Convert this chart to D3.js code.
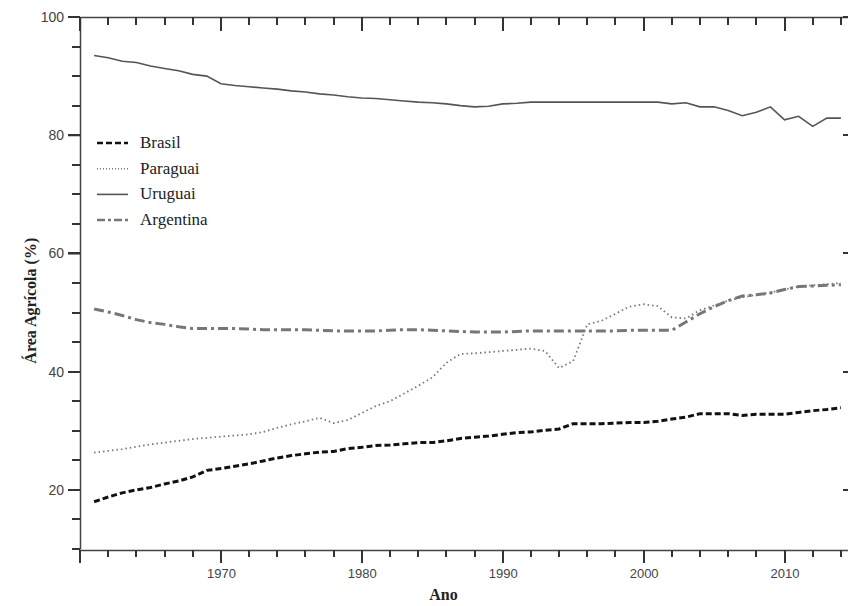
<!DOCTYPE html>
<html>
<head>
    <meta charset="utf-8">
    <style>
        body { margin: 0; background: white; }
        svg { display: block; }
        .tick text { font-family: 'Liberation Sans', Arial, sans-serif; font-size: 13px; fill: #444; }
        .axis path { stroke: #444; stroke-width: 1.5; fill: none; }
        .ticks { stroke: #333; stroke-width: 2; fill: none; }
        .title { font-family: 'Liberation Serif', 'Times New Roman', serif; font-weight: bold; font-size: 16px; fill: #222; }
        .legend text { font-family: 'Liberation Serif', 'Times New Roman', serif; font-size: 17px; fill: #222; }
    </style>
</head>
<body>
<svg width="848" height="606"></svg>

<script src="https://d3js.org/d3.v7.min.js"></script>
<script>
    // years 1961 - 2014
    let years = d3.range(1961, 2015)

    let brasil = [18.0, 18.8, 19.5, 20.0, 20.4, 21.0, 21.5, 22.2, 23.3, 23.6,
        24.0, 24.4, 24.9, 25.4, 25.8, 26.1, 26.4, 26.5, 27.0, 27.2,
        27.5, 27.6, 27.8, 28.0, 28.0, 28.3, 28.7, 28.9, 29.1, 29.4,
        29.7, 29.8, 30.1, 30.3, 31.2, 31.2, 31.2, 31.3, 31.4, 31.4,
        31.6, 32.0, 32.3, 32.9, 32.9, 32.9, 32.6, 32.8, 32.8, 32.8,
        33.1, 33.4, 33.6, 33.9]

    let paraguai = [26.3, 26.6, 26.9, 27.3, 27.7, 28.0, 28.3, 28.6, 28.8, 29.0,
        29.2, 29.4, 29.8, 30.5, 31.1, 31.6, 32.2, 31.3, 31.8, 33.0,
        34.2, 35.0, 36.3, 37.6, 39.0, 41.5, 43.0, 43.1, 43.3, 43.5,
        43.7, 43.9, 43.5, 40.6, 41.8, 48.0, 48.6, 49.8, 51.0, 51.4,
        51.1, 49.2, 49.0, 50.4, 51.2, 52.0, 52.6, 53.0, 53.4, 53.9,
        54.4, 54.6, 54.8, 55.0]

    let uruguai = [93.5, 93.1, 92.5, 92.3, 91.7, 91.3, 90.9, 90.3, 90.0, 88.7,
        88.4, 88.2, 88.0, 87.8, 87.5, 87.3, 87.0, 86.8, 86.5, 86.3,
        86.2, 86.0, 85.8, 85.6, 85.5, 85.3, 85.0, 84.8, 84.9, 85.3,
        85.4, 85.6, 85.6, 85.6, 85.6, 85.6, 85.6, 85.6, 85.6, 85.6,
        85.6, 85.3, 85.5, 84.8, 84.8, 84.2, 83.3, 83.9, 84.8, 82.6,
        83.2, 81.5, 82.9, 82.9]

    let argentina = [50.6, 50.1, 49.5, 48.8, 48.3, 48.0, 47.6, 47.3, 47.3, 47.3,
        47.3, 47.2, 47.1, 47.1, 47.1, 47.1, 47.0, 46.9, 46.9, 46.9,
        46.9, 47.0, 47.1, 47.1, 47.0, 46.9, 46.8, 46.7, 46.7, 46.7,
        46.8, 46.9, 46.9, 46.9, 46.9, 46.9, 46.9, 46.9, 47.0, 47.0,
        47.0, 47.0, 48.4, 49.8, 51.0, 52.0, 52.8, 53.0, 53.3, 53.9,
        54.4, 54.5, 54.6, 54.7]

    let seriesNames = ["Brasil", "Paraguai", "Uruguai", "Argentina"]

    let xMajor = [1960, 1970, 1980, 1990, 2000, 2010]
    let xMinor = d3.range(1962, 2015, 2)
    let yMajor = [20, 40, 60, 80, 100]
    let yMinor = [10, 15, 25, 30, 35, 45, 50, 55, 65, 70, 75, 85, 90, 95]

    let styles = [
        {name: seriesNames[0], values: brasil, color: "#111", width: 3, dash: "6,3"},
        {name: seriesNames[1], values: paraguai, color: "#777", width: 1.8, dash: "1.5,3"},
        {name: seriesNames[2], values: uruguai, color: "#555", width: 1.6, dash: null},
        {name: seriesNames[3], values: argentina, color: "#777", width: 3, dash: "10,4,3,4"}
    ]

    let svg = d3.select("svg")

    let mLeft = 80, mRight = 855, mTop = 17, mBottom = 550

    let x = d3.scaleLinear().domain([1960, 2015]).range([mLeft, mRight])
    let y = d3.scaleLinear().domain([10, 100]).range([mBottom - 1, mTop])

    // frame + labels from d3 axes
    svg.append("g").attr("class", "axis")
        .attr("transform", `translate(${mLeft},0)`)
        .call(d3.axisLeft(y).tickValues(yMajor).tickSize(12).tickPadding(4).tickSizeOuter(0))
        .call(g => g.selectAll("text").style("font-size", "14px"))
    svg.append("g").attr("class", "axis")
        .attr("transform", `translate(${mRight},0)`)
        .call(d3.axisLeft(y).tickValues([]).tickSizeOuter(0))
    svg.append("g").attr("class", "axis")
        .attr("transform", `translate(0,${mBottom})`)
        .call(d3.axisBottom(x).tickValues(xMajor).tickSize(13).tickPadding(6)
            .tickFormat(d => d === 1960 ? "" : d).tickSizeOuter(0))
    svg.append("g").attr("class", "axis")
        .attr("transform", `translate(0,${mTop})`)
        .call(d3.axisBottom(x).tickValues([]).tickSizeOuter(0))

    // tick marks as one path per set
    function yTicks(vals, x0, len) {
        svg.append("path").attr("class", "ticks")
            .attr("d", vals.map(v => `M${x0},${Math.round(y(v))}h${len}`).join(""))
    }
    function xTicks(vals, y0, len) {
        svg.append("path").attr("class", "ticks")
            .attr("d", vals.map(v => `M${Math.round(x(v))},${y0}v${len}`).join(""))
    }
    yTicks(yMinor, mLeft, -8)
    yTicks(yMajor, mLeft, -12)
    yTicks(yMinor, mRight, -7)
    yTicks(yMajor, mRight, -12)
    xTicks(xMinor, mBottom, 7)
    xTicks(xMajor, mBottom, 13)
    xTicks(xMinor, mTop, 8)
    xTicks(xMajor, mTop, 14)

    let line = d3.line()
        .x((d, i) => x(years[i]))
        .y(d => y(d))

    svg.selectAll(".series")
        .data(styles)
        .join("path")
        .attr("class", "series")
        .attr("d", d => line(d.values))
        .style("fill", "none")
        .style("stroke", d => d.color)
        .style("stroke-width", d => d.width)
        .style("stroke-dasharray", d => d.dash)

    // axis titles
    svg.append("text").attr("class", "title")
        .attr("x", x(1985.8)).attr("y", 600)
        .attr("text-anchor", "middle")
        .text("Ano")

    svg.append("text").attr("class", "title")
        .attr("transform", `translate(36,${y(52)}) rotate(-90)`)
        .attr("text-anchor", "middle")
        .text("Área Agrícola (%)")

    // legend
    let legend = svg.append("g").attr("class", "legend")
        .selectAll("g")
        .data(styles)
        .join("g")
        .attr("transform", (d, i) => `translate(97,${143 + i * 25.7})`)

    legend.append("path")
        .attr("d", "M0,0H31")
        .style("fill", "none")
        .style("stroke", d => d.color)
        .style("stroke-width", d => d.name === "Uruguai" ? 1.6 : (d.name === "Paraguai" ? 1.5 : 2.5))
        .style("stroke-dasharray", d => d.name === "Paraguai" ? "1,2" : (d.name === "Argentina" ? "8,3,3,3" : d.dash))

    legend.append("text")
        .attr("x", 43).attr("y", 5)
        .text(d => d.name)
</script>
</body>
</html>
